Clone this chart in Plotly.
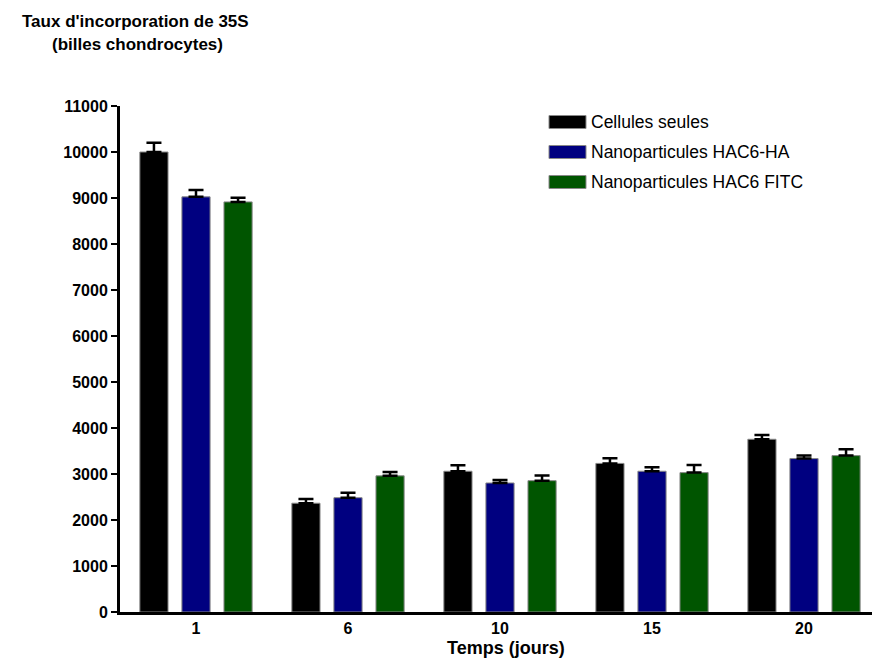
import plotly.graph_objects as go

days = ["1", "6", "10", "15", "20"]
series_names = ["Cellules seules", "Nanoparticules HAC6-HA", "Nanoparticules HAC6 FITC"]
cellules = [10000, 2365, 3060, 3230, 3755]
cellules_err = [200, 90, 130, 115, 95]
hac6_ha = [9025, 2485, 2805, 3060, 3335]
hac6_ha_err = [150, 110, 65, 85, 65]
hac6_fitc = [8915, 2960, 2855, 3030, 3400]
hac6_fitc_err = [90, 85, 115, 165, 140]
colors = ["#000000", "#000080", "#005500"]
y_ticks = list(range(0, 11001, 1000))

FONT = "Arial, Liberation Sans, sans-serif"
OFF = 8  # page body margin
W, H = 880 - OFF, 659 - OFF
ML, MR, MT, MB = 120 - OFF, 0, 106 - OFF, 47
PW, PH = W - ML - MR, H - MT - MB


def px(x):
    return (x - OFF - ML) / PW


def py(y):
    return (H - MB - (y - OFF)) / PH


fig = go.Figure()
for name, vals, errs, col in zip(series_names,
                                 [cellules, hac6_ha, hac6_fitc],
                                 [cellules_err, hac6_ha_err, hac6_fitc_err],
                                 colors):
    fig.add_trace(go.Bar(
        x=days, y=vals, name=name, showlegend=False,
        marker=dict(color=col, line=dict(color="#888888", width=1)),
        error_y=dict(type="data", array=errs, symmetric=False,
                     arrayminus=[0] * len(errs),
                     color="black", thickness=2.5, width=7.5),
    ))

# legend drawn as swatches + labels
shapes = []
annotations = []
legend_rows_y = [122, 152, 182]
for name, col, yy in zip(series_names, colors, legend_rows_y):
    shapes.append(dict(type="rect", xref="paper", yref="paper",
                       x0=px(549), x1=px(586), y0=py(yy - 6.5), y1=py(yy + 6.5),
                       fillcolor=col, line=dict(color="#888888", width=1)))
    annotations.append(dict(text=name, xref="paper", yref="paper",
                            x=px(589), y=py(yy), xanchor="left", yanchor="middle",
                            showarrow=False,
                            font=dict(size=17.5, family=FONT, color="black")))

annotations.append(dict(text="<b>Taux d'incorporation de 35S</b>",
                        xref="paper", yref="paper", x=px(135), y=py(21),
                        xanchor="center", yanchor="middle", showarrow=False,
                        font=dict(size=17, family=FONT, color="black")))
annotations.append(dict(text="<b>(billes chondrocytes)</b>",
                        xref="paper", yref="paper", x=px(137), y=py(44),
                        xanchor="center", yanchor="middle", showarrow=False,
                        font=dict(size=17, family=FONT, color="black")))
annotations.append(dict(text="<b>Temps (jours)</b>",
                        xref="paper", yref="paper", x=px(506), y=py(648),
                        xanchor="center", yanchor="middle", showarrow=False,
                        font=dict(size=18, family=FONT, color="black")))

fig.update_layout(
    width=W, height=H,
    paper_bgcolor="white", plot_bgcolor="white",
    margin=dict(l=ML, r=MR, t=MT, b=MB),
    barmode="group", bargap=0.17, bargroupgap=0.33,
    font=dict(family=FONT, color="black"),
    showlegend=False,
    shapes=shapes,
    annotations=annotations,
)
fig.update_xaxes(
    type="category", range=[-0.5, 4.5], automargin=False,
    showline=True, linecolor="black", linewidth=3,
    ticks="", showgrid=False, zeroline=False,
    tickfont=dict(size=16, family=FONT, color="black", weight="bold"),
)
fig.update_yaxes(
    range=[0, 11000], tickvals=y_ticks, tickformat="d", automargin=False,
    showline=True, linecolor="black", linewidth=3,
    ticks="outside", ticklen=6, tickwidth=2, tickcolor="black",
    showgrid=False, zeroline=False,
    tickfont=dict(size=16, family=FONT, color="black", weight="bold"),
)

fig.write_html("out.html")
